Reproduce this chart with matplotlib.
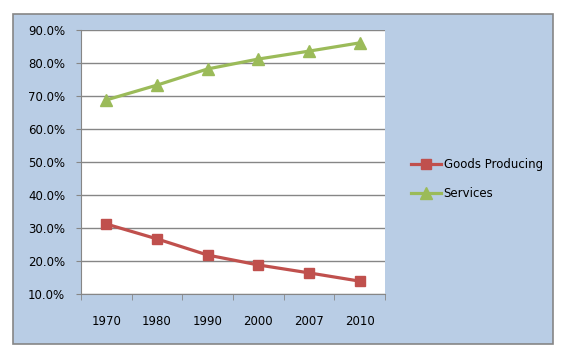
import numpy as np
import matplotlib.pyplot as plt
from matplotlib.patches import Rectangle
from matplotlib.ticker import FuncFormatter

# Share of employment by sector
years = ["1970", "1980", "1990", "2000", "2007", "2010"]
goods = [31.2, 26.7, 21.8, 18.8, 16.4, 13.9]
services = [68.8, 73.3, 78.2, 81.2, 83.6, 86.1]

fig = plt.figure(figsize=(5.7, 3.51), dpi=100)
fig.patch.set_facecolor("white")

# light blue chart area with grey border
bg = Rectangle((13 / 570, 1 - 344 / 351), 540 / 570, 330 / 351,
               transform=fig.transFigure, facecolor="#B9CDE5",
               edgecolor="#868686", linewidth=1.2, zorder=-10)
fig.add_artist(bg)

ax = fig.add_axes([81 / 570, 1 - 294 / 351, 304 / 570, 264 / 351])
ax.set_zorder(1)
ax.set_facecolor("white")

x = np.arange(len(years))
ax.plot(x, goods, color="#C0504D", linewidth=2.3, marker="s", markersize=7.5,
        label="Goods Producing")
ax.plot(x, services, color="#9BBB59", linewidth=2.3, marker="^", markersize=8.5,
        label="Services")

ax.set_xlim(-0.5, len(years) - 0.5)
ax.set_ylim(10, 90)
ax.set_yticks(np.arange(10, 91, 10))
ax.yaxis.set_major_formatter(FuncFormatter(lambda v, p: f"{v:.1f}%"))
ax.set_xticks(x)
ax.set_xticklabels(years)
ax.set_xticks(np.arange(-0.5, len(years)), minor=True)
ax.tick_params(axis="x", which="major", length=0, pad=15, labelsize=8.5)
ax.tick_params(axis="x", which="minor", length=4, color="#868686")
ax.tick_params(axis="y", length=3.5, color="#868686", labelsize=8.5, pad=8)

ax.grid(axis="y", color="#868686", linewidth=1)
ax.set_axisbelow(True)
for s in ["top", "right"]:
    ax.spines[s].set_visible(False)
for s in ["left", "bottom"]:
    ax.spines[s].set_color("#868686")

fig.legend(*ax.get_legend_handles_labels(), loc="center left",
           bbox_to_anchor=(400 / 570, 1 - 179 / 351), frameon=False,
           fontsize=8.5, handlelength=2.6, labelspacing=1.35, handletextpad=0.2)

fig.savefig("out.png", dpi=100)
